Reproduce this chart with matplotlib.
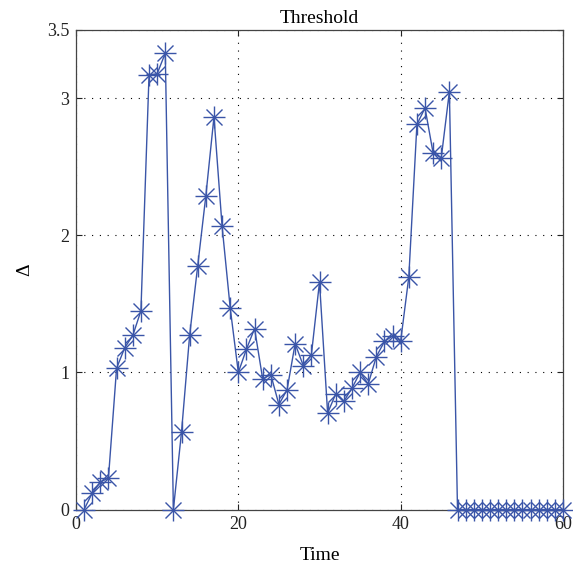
import matplotlib
matplotlib.use("Agg")
import matplotlib.pyplot as plt

# Threshold value per time step
time = list(range(1, 61))
delta = [0.0, 0.12, 0.2, 0.23, 1.03, 1.18, 1.27, 1.45, 3.17, 3.18,
         3.33, 0.0, 0.565, 1.27, 1.78, 2.29, 2.865, 2.066, 1.47, 1.0,
         1.17, 1.32, 0.953, 0.984, 0.766, 0.873, 1.21, 1.05, 1.13, 1.66,
         0.703, 0.844, 0.79, 0.885, 1.0, 0.916, 1.115, 1.226, 1.267, 1.23,
         1.696, 2.81, 2.93, 2.6, 2.567, 3.05, 0.0, 0.0, 0.0, 0.0,
         0.0, 0.0, 0.0, 0.0, 0.0, 0.0, 0.0, 0.0, 0.0, 0.0]

plt.rcParams['font.family'] = ['Liberation Serif', 'DejaVu Serif']
blue = '#3a55a8'

fig = plt.figure(figsize=(5.73, 5.71), dpi=100)
ax = fig.add_axes([0.1326, 0.1077, 0.85, 0.84])

# MATLAB-style asterisk: a plus and a cross on top of each other
ax.plot(time, delta, color=blue, linewidth=1.0, marker='+', markersize=16,
        markeredgewidth=1.0, clip_on=False, zorder=3)
ax.plot(time, delta, linestyle='none', color=blue, marker='x', markersize=11,
        markeredgewidth=1.0, clip_on=False, zorder=3)

ax.set_xlim(0, 60)
ax.set_ylim(0, 3.5)
ax.set_xticks([0, 20, 40, 60])
ax.set_yticks([0, 1, 2, 3, 3.5])
ax.set_yticklabels(['0', '1', '2', '3', '3.5'])
ax.grid(True, linestyle=(0, (1, 6)), color='black', linewidth=0.8)
ax.tick_params(direction='in', top=True, right=True, length=4,
               labelsize=13, colors='#222222', pad=5)
for s in ax.spines.values():
    s.set_color('#444444')
    s.set_linewidth(0.9)

ax.set_title('Threshold', fontsize=14, pad=5)
ax.set_xlabel('Time', fontsize=14, labelpad=10)
ax.set_ylabel('Δ', fontsize=14, labelpad=10)

fig.savefig('out.png', dpi=100)
